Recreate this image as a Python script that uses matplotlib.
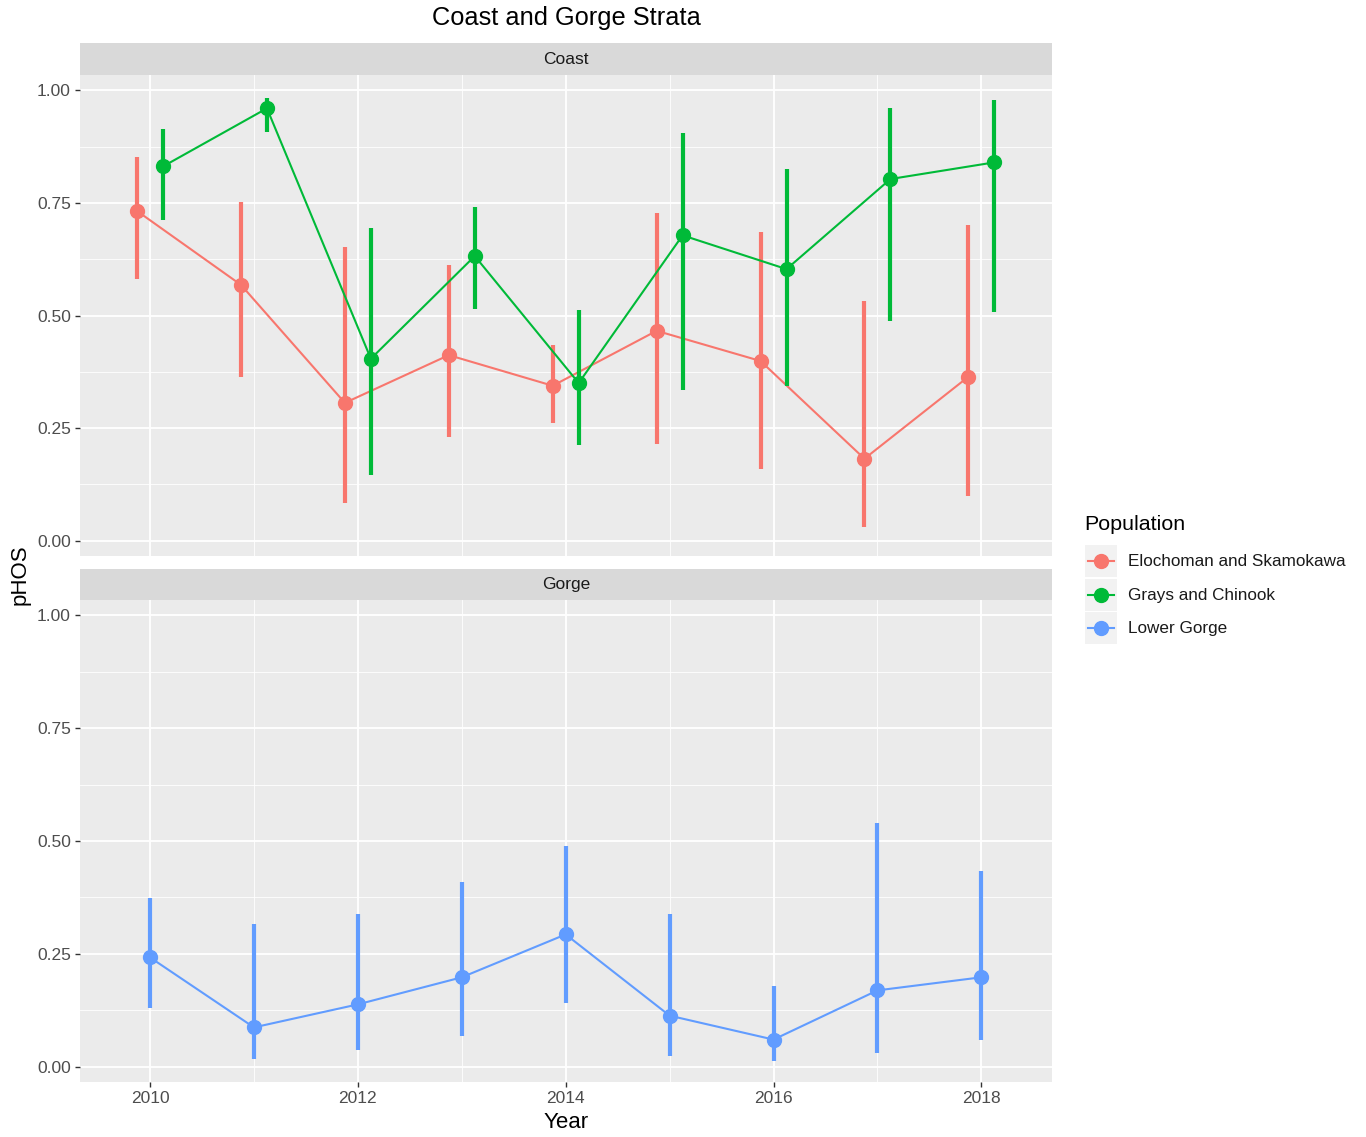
import matplotlib
matplotlib.use("Agg")
import matplotlib.pyplot as plt
from matplotlib.lines import Line2D
from matplotlib.patches import Rectangle
import numpy as np

plt.rc("font", family="Liberation Sans")

years = np.arange(2010, 2019)

# Coast stratum
elo_mean = [0.732, 0.568, 0.306, 0.412, 0.344, 0.466, 0.399, 0.182, 0.364]
elo_lo = [0.581, 0.364, 0.084, 0.231, 0.262, 0.215, 0.160, 0.031, 0.100]
elo_hi = [0.851, 0.752, 0.652, 0.612, 0.435, 0.727, 0.685, 0.532, 0.701]

grays_mean = [0.831, 0.960, 0.404, 0.632, 0.350, 0.678, 0.603, 0.803, 0.840]
grays_lo = [0.712, 0.907, 0.146, 0.514, 0.213, 0.335, 0.344, 0.488, 0.508]
grays_hi = [0.913, 0.984, 0.694, 0.741, 0.512, 0.905, 0.825, 0.960, 0.978]

# Gorge stratum
gorge_mean = [0.242, 0.087, 0.138, 0.198, 0.293, 0.113, 0.060, 0.169, 0.198]
gorge_lo = [0.131, 0.016, 0.036, 0.067, 0.140, 0.024, 0.013, 0.031, 0.058]
gorge_hi = [0.373, 0.316, 0.338, 0.409, 0.489, 0.338, 0.178, 0.540, 0.433]

populations = ["Elochoman and Skamokawa", "Grays and Chinook", "Lower Gorge"]
colors = ["#F8766D", "#00BA38", "#619CFF"]

W, H = 1366, 1137
fig = plt.figure(figsize=(W / 100, H / 100), dpi=100)

left, right = 80 / W, 1052 / W
width = right - left


def px_box(top, bottom):
    return [left, 1 - bottom / H, width, (bottom - top) / H]


def style_panel(ax, show_x):
    ax.set_facecolor("#EBEBEB")
    ax.set_xlim(2009.326, 2018.68)
    ax.set_ylim(-0.034, 1.034)
    ax.set_xticks([2010, 2012, 2014, 2016, 2018])
    ax.set_xticks([2011, 2013, 2015, 2017], minor=True)
    ax.set_yticks([0, 0.25, 0.5, 0.75, 1.0])
    ax.set_yticks([0.125, 0.375, 0.625, 0.875], minor=True)
    ax.set_yticklabels(["0.00", "0.25", "0.50", "0.75", "1.00"])
    ax.grid(which="major", color="white", linewidth=1.3)
    ax.grid(which="minor", color="white", linewidth=0.6)
    ax.set_axisbelow(True)
    for s in ax.spines.values():
        s.set_visible(False)
    ax.tick_params(which="minor", length=0)
    ax.tick_params(which="major", length=3.5, color="#333333", labelsize=12.5,
                   labelcolor="#4D4D4D", width=1.0, pad=3)
    if not show_x:
        ax.tick_params(axis="x", which="both", length=0, labelbottom=False)


def strip(top, bottom, label):
    sax = fig.add_axes(px_box(top, bottom))
    sax.set_facecolor("#D9D9D9")
    sax.set_xticks([])
    sax.set_yticks([])
    for s in sax.spines.values():
        s.set_visible(False)
    sax.text(0.5, 0.5, label, ha="center", va="center", fontsize=12.5,
             color="#1A1A1A", transform=sax.transAxes)


def draw_series(ax, x, mean, lo, hi, color):
    ax.vlines(x, lo, hi, color=color, linewidth=3.0, zorder=3)
    ax.plot(x, mean, color=color, linewidth=1.5, zorder=3)
    ax.plot(x, mean, "o", color=color, markersize=10, zorder=4)


ax1 = fig.add_axes(px_box(75, 556))
ax2 = fig.add_axes(px_box(600, 1082))
strip(43, 75, "Coast")
strip(569, 600, "Gorge")
style_panel(ax1, False)
style_panel(ax2, True)

dodge = 0.125
draw_series(ax1, years - dodge, elo_mean, elo_lo, elo_hi, colors[0])
draw_series(ax1, years + dodge, grays_mean, grays_lo, grays_hi, colors[1])
draw_series(ax2, years, gorge_mean, gorge_lo, gorge_hi, colors[2])

fig.text(566 / W, 1 - 18 / H, "Coast and Gorge Strata", ha="center", va="center",
         fontsize=18.3, color="black")
fig.text(566 / W, 1 - 1122 / H, "Year", ha="center", va="center", fontsize=16)
fig.text(20 / W, 1 - 575 / H, "pHOS", ha="center", va="center", fontsize=16,
         rotation=90)

# legend
fig.text(1084 / W, 1 - 524 / H, "Population", ha="left", va="center", fontsize=15.4)
row_y = [561, 595, 628]
for name, c, y in zip(populations, colors, row_y):
    fig.patches.append(Rectangle((1085 / W, 1 - (y + 16) / H), 32 / W, 32 / H,
                                 transform=fig.transFigure, facecolor="#F2F2F2",
                                 edgecolor="none"))
    fig.lines.append(Line2D([1088 / W, 1114 / W], [1 - y / H, 1 - y / H],
                            transform=fig.transFigure, color=c, linewidth=1.5))
    fig.lines.append(Line2D([1101 / W], [1 - y / H], transform=fig.transFigure,
                            color=c, marker="o", markersize=10))
    fig.text(1128 / W, 1 - y / H, name, ha="left", va="center", fontsize=12.3,
             color="#1A1A1A")

fig.savefig("out.png", dpi=100, facecolor="white")
